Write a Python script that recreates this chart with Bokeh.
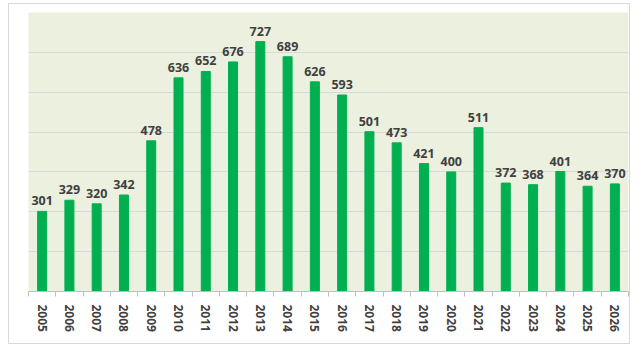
from bokeh.plotting import figure
from bokeh.models import ColumnDataSource, Range1d, FixedTicker, LabelSet
from bokeh.core.properties import value
from bokeh.embed import file_html
from bokeh.resources import INLINE

years = ["2005", "2006", "2007", "2008", "2009", "2010", "2011", "2012", "2013", "2014", "2015",
         "2016", "2017", "2018", "2019", "2020", "2021", "2022", "2023", "2024", "2025", "2026"]
values = [301, 329, 320, 342, 478, 636, 652, 676, 727, 689, 626,
          593, 501, 473, 421, 400, 511, 372, 368, 401, 364, 370]
y_min, y_max = 100, 800
grid_ticks = [200, 300, 400, 500, 600, 700, 800]

n = len(years)
xs = [i + 0.5 for i in range(n)]
src = ColumnDataSource(dict(x=xs, top=values, label=[str(v) for v in values]))

p = figure(width=622, height=341, output_backend="svg", toolbar_location=None,
           x_range=Range1d(0, n), y_range=Range1d(y_min, y_max),
           y_axis_location=None,
           min_border_left=19, min_border_right=3, min_border_top=8, min_border_bottom=54,
           background_fill_color="#EBF1DE", border_fill_color="white",
           styles={"border": "1px solid #D9D9D9", "margin-left": "8px", "margin-top": "3px"})
p.outline_line_color = None

p.vbar(x="x", top="top", bottom=y_min, width=0.33, source=src,
       fill_color="#00B050", line_color="#00B050")

labels = LabelSet(x="x", y="top", text="label", source=src, y_offset=6,
                  text_align="center", text_baseline="bottom",
                  text_font=value("Open Sans"), text_font_style="bold",
                  text_font_size="12.5px", text_color="#404040")
p.add_layout(labels)

ax = p.xaxis[0]
ax.ticker = FixedTicker(ticks=xs, minor_ticks=list(range(n + 1)))
ax.major_label_overrides = {x: y for x, y in zip(xs, years)}
ax.major_tick_line_color = None
ax.minor_tick_line_color = "#BFBFBF"
ax.minor_tick_out = 5
ax.minor_tick_in = 0
ax.axis_line_color = "#BFBFBF"
ax.major_label_orientation = "vertical"
ax.major_label_standoff = 7
ax.major_label_text_font = "Open Sans"
ax.major_label_text_font_style = "bold"
ax.major_label_text_font_size = "12px"
ax.major_label_text_color = "#404040"

p.xgrid.visible = False
p.ygrid.ticker = FixedTicker(ticks=grid_ticks)
p.ygrid.grid_line_color = "#D6D8DE"
p.ygrid.grid_line_width = 1

open("out.html", "w").write(file_html(p, INLINE))
